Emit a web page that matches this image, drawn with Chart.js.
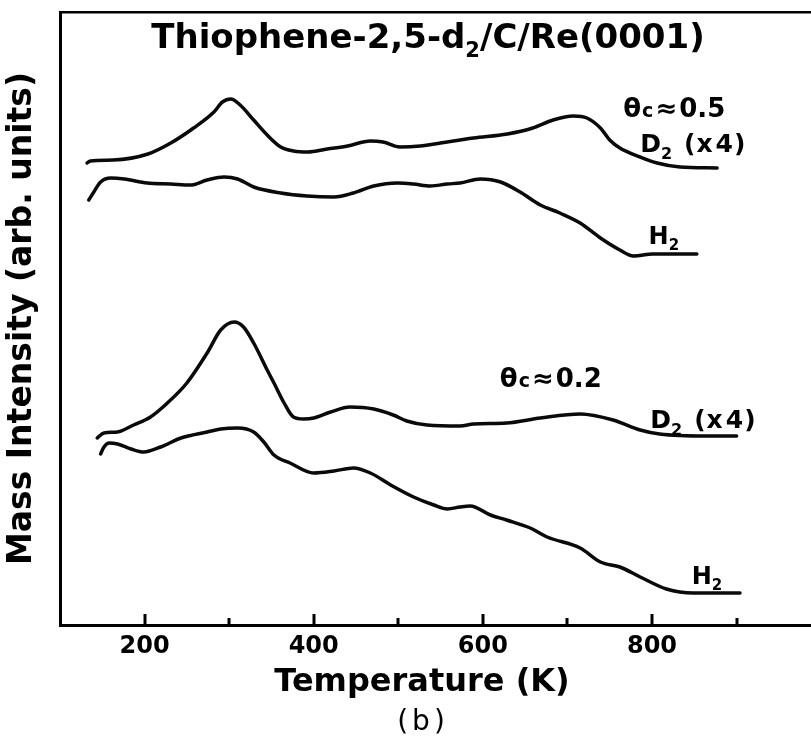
<!DOCTYPE html>
<html>
<head>
<meta charset="utf-8">
<title>Thiophene-2,5-d2/C/Re(0001) TPD</title>
<script src="https://cdn.jsdelivr.net/npm/chart.js@4.4.1/dist/chart.umd.min.js"></script>
<style>
    html, body { margin: 0; padding: 0; background: #fff; }
    #tpd { display: block; }
</style>
</head>
<body>
<canvas id="tpd" width="811" height="739"></canvas>
<script>
// TPD traces, temperature in K and intensity in arbitrary units

// theta_C ~ 0.5, D2 (x4)
var d2HighTemp = [132, 136, 163, 204, 231, 258, 282, 292, 302, 313, 329, 345, 361, 376, 393, 416, 440, 467, 482, 502, 526, 550, 573, 589, 629, 659, 683, 707, 723, 739, 750, 762, 786, 806, 833, 877];
var d2HighVal = [462, 464, 465, 471, 482, 497, 513, 523, 526, 520, 505, 490, 478, 474, 473, 476, 479, 484, 483, 478, 479, 482, 485, 487, 491, 497, 505, 509, 507, 497, 485, 477, 468, 462, 458, 457];

// theta_C ~ 0.5, H2
var h2HighTemp = [134, 140, 148, 160, 176, 203, 231, 254, 274, 294, 310, 329, 361, 392, 424, 447, 471, 499, 518, 538, 558, 573, 597, 621, 644, 668, 691, 715, 739, 762, 778, 801, 853];
var h2HighVal = [425, 433, 443, 447, 446, 442, 441, 440, 445, 448, 446, 438, 432, 429, 428, 432, 439, 442, 441, 439, 441, 442, 446, 443, 433, 420, 412, 402, 387, 375, 369, 371, 371];

// theta_C ~ 0.2, D2 (x4)
var d2LowTemp = [144, 152, 168, 187, 207, 227, 250, 274, 290, 306, 317, 329, 345, 353, 365, 376, 388, 400, 420, 443, 471, 494, 510, 534, 573, 589, 628, 668, 715, 754, 786, 809, 865, 900];
var d2LowVal = [187, 192, 193, 200, 208, 222, 242, 272, 295, 303, 298, 282, 255, 242, 222, 208, 206, 207, 213, 218, 216, 210, 204, 200, 199, 201, 202, 207, 211, 205, 195, 191, 189, 189];

// theta_C ~ 0.2, H2
var h2LowTemp = [148, 152, 158, 168, 184, 199, 219, 243, 274, 290, 310, 329, 341, 353, 372, 400, 424, 447, 467, 491, 518, 542, 558, 573, 585, 609, 628, 656, 676, 715, 739, 762, 786, 817, 849, 904];
var h2LowVal = [171, 178, 182, 181, 176, 173, 178, 187, 193, 196, 197, 193, 183, 170, 162, 152, 154, 157, 152, 140, 128, 120, 116, 118, 119, 110, 105, 97, 88, 77, 63, 58, 48, 36, 32, 32];

var tickLabels = [200, 400, 600, 800];
var tickMarks = [200, 300, 400, 500, 600, 700, 800, 900];

var FONT = '"DejaVu Sans", "Liberation Sans", sans-serif';

function toPoints(temps, vals) {
    return temps.map(function (t, i) {
        return { x: t, y: vals[i] };
    });
}

function trace(temps, vals) {
    return {
        data: toPoints(temps, vals),
        borderColor: '#0a0a0a',
        borderWidth: 3.5,
        pointRadius: 0,
        fill: false,
        cubicInterpolationMode: 'monotone',
        borderCapStyle: 'round',
        borderJoinStyle: 'round'
    };
}

// text made of normal / small / subscript pieces, returns the width
function drawParts(ctx, parts, x, y, size, weight, measureOnly) {
    var start = x;
    parts.forEach(function (p) {
        var s = p.sub ? Math.round(size * 0.62) : (p.small ? Math.round(size * 0.72) : size);
        ctx.font = weight + ' ' + s + 'px ' + FONT;
        if (!measureOnly) {
            ctx.fillText(p.t, x, y + (p.sub ? size * 0.26 : 0));
        }
        x += ctx.measureText(p.t).width + (p.gap || 0);
    });
    return x - start;
}

function drawCentered(ctx, parts, cx, y, size, weight) {
    var w = drawParts(ctx, parts, 0, 0, size, weight, true);
    drawParts(ctx, parts, cx - w / 2, y, size, weight);
}

var titleParts = [{ t: 'Thiophene-2,5-d' }, { t: '2', sub: true }, { t: '/C/Re(0001)' }];
var xTitleParts = [{ t: 'Temperature (K)' }];
var panelParts = [{ t: '(', gap: 4 }, { t: 'b', gap: 4 }, { t: ')' }];

var d2Parts = [{ t: 'D' }, { t: '2', sub: true, gap: 12 }, { t: '(', gap: 1 }, { t: 'x', gap: 3 }, { t: '4', gap: 1 }, { t: ')' }];

var curveLabels = [
    { x: 766, y: 508, size: 26, parts: [{ t: 'θ', gap: 1 }, { t: 'c', small: true, gap: 2 }, { t: '≈', gap: 2 }, { t: '0.5' }] },
    { x: 786, y: 473, size: 25, parts: d2Parts },
    { x: 796, y: 381, size: 24, parts: [{ t: 'H' }, { t: '2', sub: true }] },
    { x: 620, y: 238, size: 26, parts: [{ t: 'θ', gap: 1 }, { t: 'c', small: true, gap: 2 }, { t: '≈', gap: 2 }, { t: '0.2' }] },
    { x: 798, y: 197, size: 25, parts: d2Parts },
    { x: 847, y: 41, size: 24, parts: [{ t: 'H' }, { t: '2', sub: true }] }
];

var insideTicks = {
    id: 'insideTicks',
    afterDatasetsDraw: function (chart) {
        var ctx = chart.ctx;
        var xs = chart.scales.x;
        var bottom = chart.chartArea.bottom;
        ctx.save();
        ctx.strokeStyle = '#000';
        ctx.lineWidth = 3;
        tickMarks.forEach(function (t) {
            var px = Math.round(xs.getPixelForValue(t));
            var len = tickLabels.indexOf(t) >= 0 ? 11 : 7;
            ctx.beginPath();
            ctx.moveTo(px, bottom);
            ctx.lineTo(px, bottom - len);
            ctx.stroke();
        });
        ctx.restore();
    }
};

var textLabels = {
    id: 'textLabels',
    afterDraw: function (chart) {
        var ctx = chart.ctx;
        var area = chart.chartArea;
        ctx.save();
        ctx.fillStyle = '#000';
        ctx.textBaseline = 'alphabetic';
        ctx.textAlign = 'left';

        drawCentered(ctx, titleParts, area.left + 368, area.top + 36, 34, 'bold');
        drawCentered(ctx, xTitleParts, area.left + 362, area.bottom + 66, 32, 'bold');
        drawCentered(ctx, panelParts, area.left + 361, area.bottom + 105, 28, 'normal');

        curveLabels.forEach(function (l) {
            var px = chart.scales.x.getPixelForValue(l.x);
            var py = chart.scales.y.getPixelForValue(l.y);
            drawParts(ctx, l.parts, px, py, l.size, 'bold');
        });
        ctx.restore();
    }
};

Chart.defaults.color = '#000';
Chart.defaults.font.family = FONT;

var ctx = document.getElementById('tpd');
var chart = new Chart(ctx, {
    type: 'line',
    data: {
        datasets: [
            trace(d2HighTemp, d2HighVal),
            trace(h2HighTemp, h2HighVal),
            trace(d2LowTemp, d2LowVal),
            trace(h2LowTemp, h2LowVal)
        ]
    },
    options: {
        responsive: false,
        animation: false,
        events: [],
        layout: { padding: { left: 0, right: 0, top: 12, bottom: 71.2 } },
        plugins: {
            legend: { display: false },
            tooltip: { enabled: false }
        },
        scales: {
            x: {
                type: 'linear',
                position: 'bottom',
                min: 100,
                max: 988,
                afterBuildTicks: function (scale) {
                    scale.ticks = tickLabels.map(function (v) { return { value: v }; });
                },
                ticks: {
                    padding: 7,
                    maxRotation: 0,
                    font: { size: 24, weight: 'bold', lineHeight: 1.2 },
                    callback: function (v) { return v; }
                },
                grid: { drawOnChartArea: false, drawTicks: false },
                border: { display: true, color: '#000', width: 3 }
            },
            xTop: {
                type: 'linear',
                position: 'top',
                min: 100,
                max: 988,
                ticks: { display: false },
                grid: { drawOnChartArea: false, drawTicks: false },
                border: { display: true, color: '#000', width: 2.5 }
            },
            y: {
                type: 'linear',
                min: 0,
                max: 613,
                ticks: { display: false },
                grid: { drawOnChartArea: false, drawTicks: false },
                border: { display: true, color: '#000', width: 3 },
                title: {
                    display: true,
                    text: 'Mass Intensity (arb. units)',
                    font: { size: 33, weight: 'bold', lineHeight: 1 },
                    padding: { top: 6, bottom: 21 }
                }
            }
        }
    },
    plugins: [insideTicks, textLabels]
});
</script>
</body>
</html>
